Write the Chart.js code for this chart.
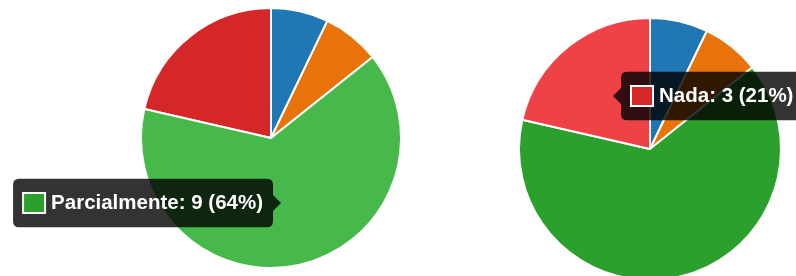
<!DOCTYPE html>
<html>
<head>
<meta charset="utf-8">
<script src="https://cdn.jsdelivr.net/npm/chart.js@4"></script>
<style>
  html, body { margin: 0; padding: 0; background: #fff; overflow: hidden; width: 796px; height: 276px; }
  .pie { position: absolute; }
  #leftBox { left: 0; top: 0; width: 410px; height: 276px; }
  #rightBox { left: 410px; top: 0; width: 460px; height: 290px; }
</style>
</head>
<body>
<div class="pie" id="leftBox"><canvas id="leftPie"></canvas></div>
<div class="pie" id="rightBox"><canvas id="rightPie"></canvas></div>
<script>
// ------------------------------
// Data (both pies show the same answers).
const answerLabels = ['Sim', 'Muito', 'Parcialmente', 'Nada'];
const leftCounts = [1, 1, 9, 3];
const rightCounts = [1, 1, 9, 3];

const sliceColors = ['#1f77b4', '#e8730a', '#2ca02c', '#d62728'];
const hoverColors = ['#3b8fd0', '#f58a2a', '#46b94a', '#ef4247'];

// Tooltip goes where the (simulated) pointer is.
Chart.Tooltip.positioners.pinned = function(items, eventPosition) {
  return { x: eventPosition.x, y: eventPosition.y, xAlign: this.options.xAlign, yAlign: 'center' };
};

function makePie(canvasId, counts, padding, caretSide) {
  const ctx = document.getElementById(canvasId).getContext('2d');
  return new Chart(ctx, {
    type: 'pie',
    data: {
      labels: answerLabels,
      datasets: [{
        data: counts,
        backgroundColor: sliceColors,
        hoverBackgroundColor: hoverColors,
        borderColor: '#ffffff',
        hoverBorderColor: '#ffffff',
        borderWidth: 2,
        hoverBorderWidth: 2,
        hoverOffset: 0
      }]
    },
    options: {
      responsive: true,
      maintainAspectRatio: false,
      animation: false,
      events: [],
      layout: { padding: padding },
      plugins: {
        legend: { display: false },
        tooltip: {
          enabled: true,
          position: 'pinned',
          xAlign: caretSide,
          backgroundColor: 'rgba(0,0,0,0.8)',
          bodyFont: { family: 'Liberation Sans, Arial, sans-serif', size: 20.5, weight: 'bold' },
          bodyColor: '#fff',
          padding: { x: 10, y: 12 },
          cornerRadius: 6,
          caretSize: 8,
          caretPadding: 0,
          boxWidth: 22,
          boxHeight: 20,
          boxPadding: 4,
          displayColors: true,
          callbacks: {
            title: () => '',
            label: function(item) {
              const total = item.dataset.data.reduce((a, b) => a + b, 0);
              const pct = Math.round(item.raw / total * 100);
              return item.label + ': ' + item.raw + ' (' + pct + '%)';
            },
            labelColor: function(item) {
              return { borderColor: '#ffffff', backgroundColor: sliceColors[item.dataIndex], borderWidth: 2 };
            }
          }
        }
      }
    }
  });
}

const leftChart = makePie('leftPie', leftCounts, { left: 140, right: 8, top: 7, bottom: 7 }, 'right');
const rightChart = makePie('rightPie', rightCounts, { left: 108, right: 88, top: 17, bottom: 9 }, 'left');

// Show the hovered slice + tooltip on each chart.
function showHover(chart, index, pos) {
  const active = [{ datasetIndex: 0, index: index }];
  chart.setActiveElements(active);
  chart.tooltip.setActiveElements(active, pos);
  chart.update();
}
showHover(leftChart, 2, { x: 281, y: 203 });
showHover(rightChart, 3, { x: 203, y: 96 });
</script>
</body>
</html>
